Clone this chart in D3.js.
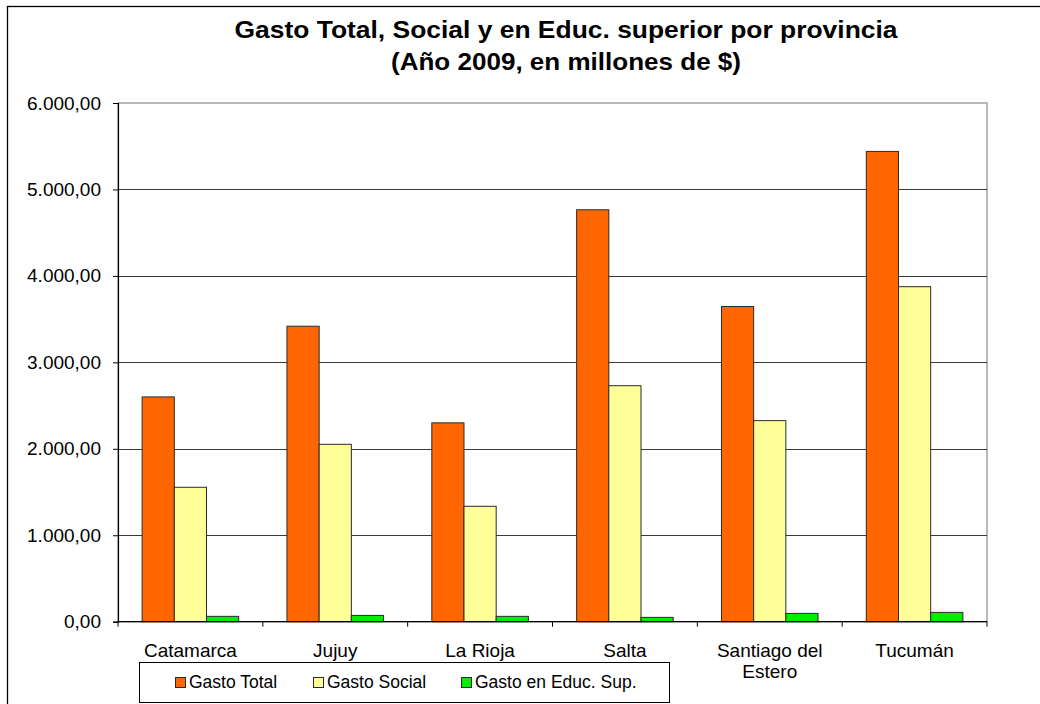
<!DOCTYPE html>
<html>
<head>
<meta charset="utf-8">
<script src="https://cdn.jsdelivr.net/npm/d3@7"></script>
<style>
  html, body { margin: 0; padding: 0; background: #fff; }
  svg { display: block; font-family: "Liberation Sans", Arial, sans-serif; }
</style>
</head>
<body>
<svg id="chart" width="1040" height="704"></svg>
<script>
// data (millones de $)
const provinces = ["Catamarca", "Jujuy", "La Rioja", "Salta", "Santiago del Estero", "Tucumán"];
const seriesNames = ["Gasto Total", "Gasto Social", "Gasto en Educ. Sup."];
const gastoTotal = [2600, 3418, 2300, 4765, 3646, 5440];
const gastoSocial = [1555, 2052, 1335, 2730, 2326, 3875];
const gastoEducSup = [62, 73, 62, 50, 96, 108];
const yTicks = [0, 1000, 2000, 3000, 4000, 5000, 6000];
const seriesColors = ["#ff6600", "#ffff99", "#00ee00"];

const seriesValues = [gastoTotal, gastoSocial, gastoEducSup];

const svg = d3.select("#chart");
const margin = { left: 118, right: 53, top: 103, bottom: 82 };
const width = 1040, height = 704;

const es = d3.formatLocale({ decimal: ",", thousands: ".", grouping: [3], currency: ["$", ""] });
const fmt = es.format(",.2f");

// outer chart frame (runs off the picture at right and bottom)
svg.append("rect")
    .attr("x", 7.5).attr("y", 6.5)
    .attr("width", 1100).attr("height", 800)
    .attr("fill", "#fff").attr("stroke", "#000").attr("stroke-width", 1.3);

const x = d3.scaleBand().domain(provinces).range([margin.left, width - margin.right]).padding(0);
const xs = d3.scaleBand().domain(seriesNames).range([0, x.bandwidth()]).paddingInner(0).paddingOuter(0.75);
const y = d3.scaleLinear().domain([0, 6000]).range([height - margin.bottom - 0.3, margin.top]);

// title (the reference text is a bit wider than the font, so stretch it)
const title = svg.append("text")
    .attr("text-anchor", "middle")
    .attr("font-weight", "bold")
    .attr("font-size", 24)
    .attr("fill", "#000");
title.append("tspan").attr("x", 566).attr("y", 38)
    .attr("textLength", 663).attr("lengthAdjust", "spacingAndGlyphs")
    .text("Gasto Total, Social y en Educ. superior por provincia");
title.append("tspan").attr("x", 566).attr("y", 70)
    .attr("textLength", 350).attr("lengthAdjust", "spacingAndGlyphs")
    .text("(Año 2009, en millones de $)");

// plot area border (grey) and gridlines
svg.append("rect")
    .attr("x", margin.left).attr("y", y(6000))
    .attr("width", x.range()[1] - margin.left).attr("height", y(0) - y(6000))
    .attr("fill", "none").attr("stroke", "#8a8a8a").attr("stroke-width", 1.2);

svg.append("g").selectAll("line")
    .data(yTicks.filter(d => d > 0 && d < 6000))
    .join("line")
    .attr("x1", margin.left).attr("x2", x.range()[1])
    .attr("y1", d => Math.round(y(d)) + 0.5).attr("y2", d => Math.round(y(d)) + 0.5)
    .attr("stroke", "#3a3a3a").attr("stroke-width", 1.2);

// bars
const groups = svg.append("g").selectAll("g")
    .data(provinces)
    .join("g")
    .attr("transform", d => `translate(${x(d)},0)`);

groups.selectAll("rect")
    .data((p, i) => seriesNames.map((s, j) => ({ series: s, idx: j, value: seriesValues[j][i] })))
    .join("rect")
    .attr("x", d => xs(d.series))
    .attr("y", d => y(d.value))
    .attr("width", xs.bandwidth())
    .attr("height", d => y(0) - y(d.value))
    .attr("fill", d => seriesColors[d.idx])
    .attr("stroke", "#2a2a2a").attr("stroke-width", 1);

// y axis
const yAxis = d3.axisLeft(y).tickValues(yTicks).tickFormat(fmt).tickSize(5).tickPadding(12);
const yg = svg.append("g").attr("transform", `translate(${margin.left},0)`).call(yAxis);
yg.select(".domain").attr("stroke", "#000").attr("stroke-width", 1.2);
yg.selectAll(".tick line").attr("stroke", "#000");
yg.selectAll(".tick text").attr("font-size", 19).attr("fill", "#000")
    .attr("font-family", "'Liberation Sans', Arial, sans-serif");

// x axis: baseline + ticks at category boundaries
const xg = svg.append("g");
xg.append("line")
    .attr("x1", margin.left).attr("x2", x.range()[1])
    .attr("y1", y(0)).attr("y2", y(0))
    .attr("stroke", "#000").attr("stroke-width", 1.2);
const boundaries = provinces.map(p => x(p)).concat([x.range()[1]]);
xg.selectAll("line.tk")
    .data(boundaries)
    .join("line").attr("class", "tk")
    .attr("x1", d => d).attr("x2", d => d)
    .attr("y1", y(0)).attr("y2", y(0) + 5)
    .attr("stroke", "#000");

const xLabels = xg.selectAll("text")
    .data(provinces)
    .join("text")
    .attr("text-anchor", "middle")
    .attr("font-size", 19)
    .attr("fill", "#000")
    .attr("transform", d => `translate(${x(d) + x.bandwidth() / 2},0)`);
xLabels.each(function (d) {
    const lines = d === "Santiago del Estero" ? ["Santiago del", "Estero"] : [d];
    d3.select(this).selectAll("tspan")
        .data(lines)
        .join("tspan")
        .attr("x", 0)
        .attr("y", (l, i) => 657 + i * 21)
        .text(l => l);
});

// legend
const legend = svg.append("g");
legend.append("rect")
    .attr("x", 139.5).attr("y", 662.5).attr("width", 530).attr("height", 40)
    .attr("fill", "#fff").attr("stroke", "#000").attr("stroke-width", 1);
const legendX = [175, 313, 461];
const items = legend.selectAll("g.item")
    .data(seriesNames)
    .join("g").attr("class", "item")
    .attr("transform", (d, i) => `translate(${legendX[i]},0)`);
items.append("rect")
    .attr("x", 0.5).attr("y", 677.5).attr("width", 10).attr("height", 10)
    .attr("fill", (d, i) => seriesColors[i])
    .attr("stroke", "#2a2a2a");
items.append("text")
    .attr("x", 14).attr("y", 688)
    .attr("font-size", 17.5)
    .attr("fill", "#000")
    .text(d => d);
</script>
</body>
</html>
